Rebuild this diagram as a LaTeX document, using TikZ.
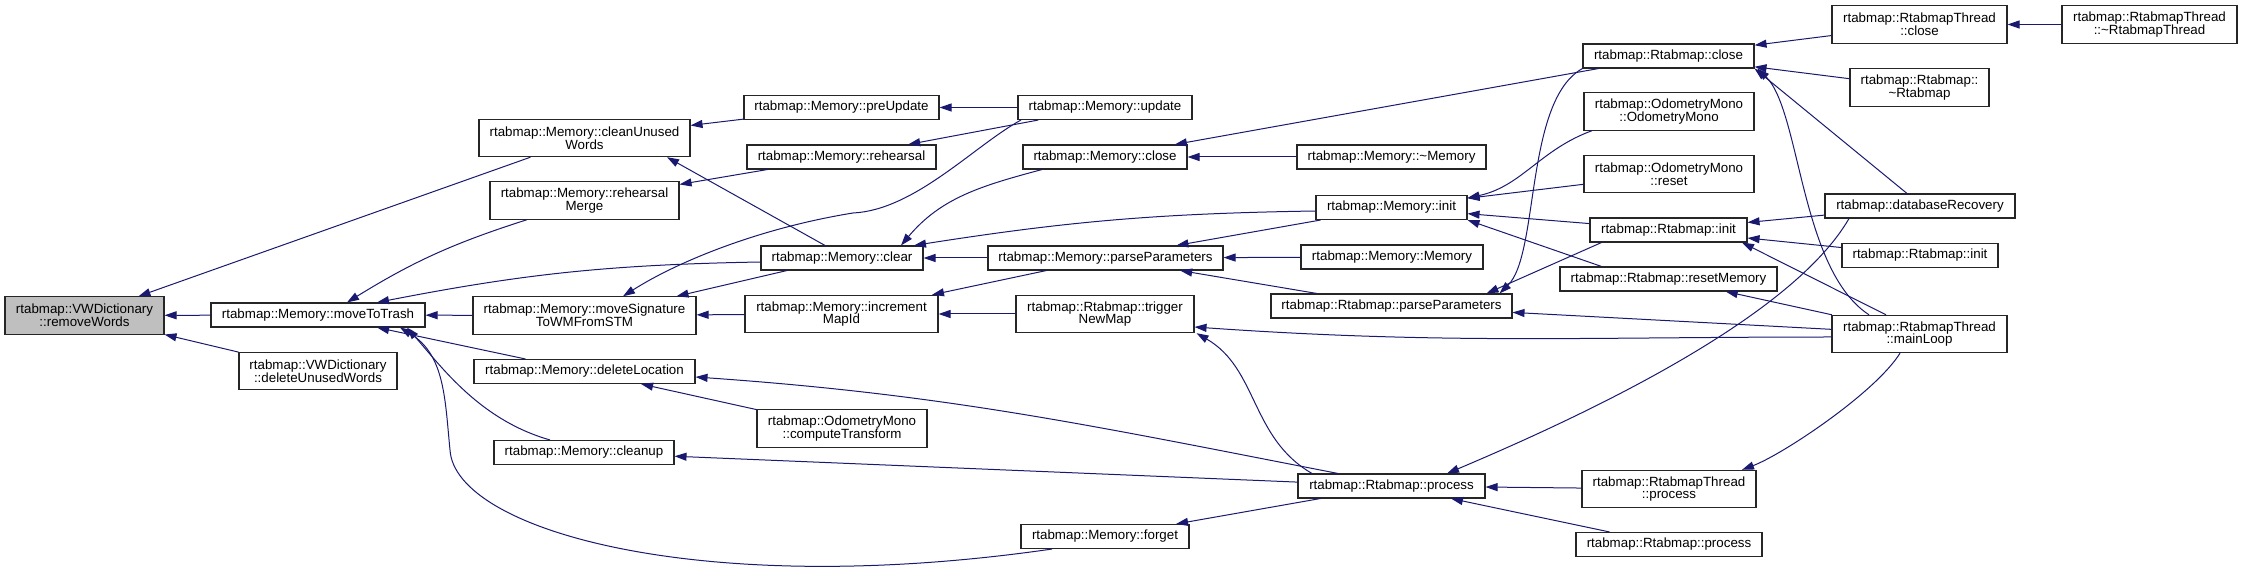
\documentclass[tikz,border=0pt]{standalone}
\usepackage{fontspec}
\setmainfont{Liberation Sans}
\usetikzlibrary{arrows.meta}
\definecolor{edgeblue}{HTML}{191970}
\definecolor{nodegray}{HTML}{BFBFBF}
\begin{document}
\begin{tikzpicture}[x=0.75pt,y=-0.75pt,
  func/.style={draw=black!85, line width=0.8pt, fill=white, align=center, inner sep=0pt,
    font=\fontsize{10pt}{9.5pt}\selectfont, minimum width=#1*0.75pt, minimum height=18pt},
  twoline/.style={minimum height=28pt},
  focus/.style={fill=nodegray},
  call/.style={draw=edgeblue, line width=0.75pt, {Triangle[length=9pt,width=6pt]}-}]
\useasboundingbox (0,0) rectangle (2242,580);

% Les fonctions
\node[func=159,twoline,focus] (removeWords) at (84.5,315.5) {rtabmap::VWDictionary\\::removeWords};
\node[func=214] (moveToTrash) at (318,315) {rtabmap::Memory::moveToTrash};
\node[func=158,twoline] (deleteUnusedWords) at (318,371) {rtabmap::VWDictionary\\::deleteUnusedWords};
\node[func=211,twoline] (cleanUnusedWords) at (584.5,138) {rtabmap::Memory::cleanUnused\\Words};
\node[func=189,twoline] (rehearsalMerge) at (584.5,200.5) {rtabmap::Memory::rehearsal\\Merge};
\node[func=223,twoline] (moveSignature) at (584.5,315.5) {rtabmap::Memory::moveSignature\\ToWMFromSTM};
\node[func=221] (deleteLocation) at (584.5,371.5) {rtabmap::Memory::deleteLocation};
\node[func=180] (cleanup) at (584,452.5) {rtabmap::Memory::cleanup};
\node[func=195] (preUpdate) at (841.5,107.5) {rtabmap::Memory::preUpdate};
\node[func=189] (rehearsal) at (841.5,157) {rtabmap::Memory::rehearsal};
\node[func=162] (clear) at (842,258) {rtabmap::Memory::clear};
\node[func=193,twoline] (incrementMapId) at (841.5,314) {rtabmap::Memory::increment\\MapId};
\node[func=170,twoline] (computeTransform) at (842,428.5) {rtabmap::OdometryMono\\::computeTransform};
\node[func=174] (update) at (1105,107.5) {rtabmap::Memory::update};
\node[func=164] (memClose) at (1105,157) {rtabmap::Memory::close};
\node[func=235] (memParams) at (1105.5,258) {rtabmap::Memory::parseParameters};
\node[func=178,twoline] (triggerNewMap) at (1105,314) {rtabmap::Rtabmap::trigger\\NewMap};
\node[func=168] (forget) at (1105,536.5) {rtabmap::Memory::forget};
\node[func=189] (memDestr) at (1391.5,157) {rtabmap::Memory::\textasciitilde Memory};
\node[func=151] (memInit) at (1391.5,207.5) {rtabmap::Memory::init};
\node[func=182] (memCtor) at (1392,257) {rtabmap::Memory::Memory};
\node[func=241] (rtabParams) at (1391.5,306) {rtabmap::Rtabmap::parseParameters};
\node[func=187] (rtabProcess) at (1391.5,486) {rtabmap::Rtabmap::process};
\node[func=171] (rtabClose) at (1668.5,56) {rtabmap::Rtabmap::close};
\node[func=170,twoline] (odomCtor) at (1669,111.5) {rtabmap::OdometryMono\\::OdometryMono};
\node[func=170,twoline] (odomReset) at (1669,174) {rtabmap::OdometryMono\\::reset};
\node[func=157] (rtabInit) at (1668.5,230) {rtabmap::Rtabmap::init};
\node[func=217] (resetMemory) at (1668.5,279) {rtabmap::Rtabmap::resetMemory};
\node[func=174,twoline] (threadProcess) at (1669,489) {rtabmap::RtabmapThread\\::process};
\node[func=186] (rtabProcessB) at (1669,544.5) {rtabmap::Rtabmap::process};
\node[func=175,twoline] (threadClose) at (1919.5,24.5) {rtabmap::RtabmapThread\\::close};
\node[func=139,twoline] (rtabDestr) at (1919.5,87.5) {rtabmap::Rtabmap::\\\textasciitilde Rtabmap};
\node[func=190] (dbRecovery) at (1920,206) {rtabmap::databaseRecovery};
\node[func=156] (rtabInitB) at (1920,255.5) {rtabmap::Rtabmap::init};
\node[func=175,twoline] (mainLoop) at (1919.5,334) {rtabmap::RtabmapThread\\::mainLoop};
\node[func=175,twoline] (threadDestr) at (2149.5,24.5) {rtabmap::RtabmapThread\\::\textasciitilde RtabmapThread};

% Les appels
\draw[call] (removeWords) -- (cleanUnusedWords);
\draw[call] (removeWords) -- (moveToTrash);
\draw[call] (removeWords) -- (deleteUnusedWords);

\draw[call] ([shift={(29,0)}]moveToTrash.north) to[bend left=7] ([shift={(-57.5,0)}]rehearsalMerge.south);
\draw[call] ([shift={(59,0)}]moveToTrash.north) to[bend left=5] ([shift={(0,4)}]clear.west);
\draw[call] (moveToTrash) -- (moveSignature);
\draw[call] (moveToTrash) -- (deleteLocation);
\draw[call] ([shift={(89,0)}]moveToTrash.south) .. controls +(35,40) and +(-70,-20) .. ([shift={(-34,0)}]cleanup.north);
\draw[call] ([shift={(82,0)}]moveToTrash.south) .. controls +(45,27) and (445,400) .. (450,450)
  .. controls (455,530) and (700,600) .. ([shift={(-53,0)}]forget.south);

\draw[call] ([shift={(0,5.5)}]deleteLocation.east) to[out=-4,in=169] ([shift={(-53.5,0)}]rtabProcess.north);
\draw[call] (deleteLocation) -- (computeTransform);
\draw[call] (cleanup) -- (rtabProcess);

\draw[call] (cleanUnusedWords) -- (preUpdate);
\draw[call] ([shift={(82.5,0)}]cleanUnusedWords.south) -- ([shift={(-17,0)}]clear.north);
\draw[call] (rehearsalMerge) -- (rehearsal);

\draw[call] ([shift={(38.5,0)}]moveSignature.north) .. controls +(55,-35) and (760,228) .. (853,213)
  .. controls (915,210) and (975,145) .. ([shift={(-84,0)}]update.south);
\draw[call] ([shift={(92,0)}]moveSignature.north) -- ([shift={(-55,0)}]clear.south);
\draw[call] (moveSignature) -- (incrementMapId);

\draw[call] (preUpdate) -- (update);
\draw[call] (rehearsal) -- (update);

\draw[call] ([shift={(59,0)}]clear.north) to[out=50,in=195] ([shift={(-63,0)}]memClose.south);
\draw[call] ([shift={(72,0)}]clear.north) to[bend left=4] ([shift={(0,3.5)}]memInit.west);
\draw[call] (clear) -- (memParams);

\draw[call] (incrementMapId) -- (memParams);
\draw[call] (incrementMapId) -- (triggerNewMap);

\draw[call] (memClose) -- (rtabClose);
\draw[call] (memClose) -- (memDestr);

\draw[call] (memParams) -- (memInit);
\draw[call] (memParams) -- (memCtor);
\draw[call] (memParams) -- (rtabParams);

\draw[call] ([shift={(0,13)}]triggerNewMap.east) to[out=-4,in=180] ([shift={(0,3)}]mainLoop.west);
\draw[call] ([shift={(2,0)}]triggerNewMap.south east) to[out=-30,in=150] ([shift={(-79.5,0)}]rtabProcess.north);
\draw[call] (forget) -- (rtabProcess);

\draw[call] ([shift={(0,-9.5)}]memInit.east) to[out=12,in=200] ([shift={(-77,0)}]odomCtor.south);
\draw[call] (memInit) -- (odomReset);
\draw[call] (memInit) -- (rtabInit);
\draw[call] (memInit.south east) -- ([shift={(-67,0)}]resetMemory.north);

\draw[call] ([shift={(108,0)}]rtabParams.north) .. controls +(40,-39) and +(-58,32) .. (rtabClose.south west);
\draw[call] ([shift={(95,0)}]rtabParams.north) -- ([shift={(-67,0)}]rtabInit.south);
\draw[call] (rtabParams) -- (mainLoop);

\draw[call] (rtabProcess) -- (threadProcess);
\draw[call] (rtabProcess) -- (rtabProcessB);
\draw[call] ([shift={(55.5,0)}]rtabProcess.north) .. controls +(130,-55) and +(-59,102) .. ([shift={(-71,0)}]dbRecovery.south);

\draw[call] (rtabClose) -- (threadClose);
\draw[call] (rtabClose) -- (rtabDestr);
\draw[call] (rtabClose.south east) -- ([shift={(-13,0)}]dbRecovery.north);
\draw[call] ([shift={(3,0)}]rtabClose.south east) .. controls +(43,42) and +(-69,-45) .. ([shift={(-50.5,0)}]mainLoop.north);
\draw[call] (threadClose) -- (threadDestr);

\draw[call] (rtabInit) -- (dbRecovery);
\draw[call] (rtabInit) -- (rtabInitB);
\draw[call] ([shift={(73.5,0)}]rtabInit.south) -- ([shift={(-33.5,0)}]mainLoop.north);
\draw[call] (resetMemory) -- (mainLoop);
\draw[call] ([shift={(73,0)}]threadProcess.north) .. controls +(40,-15) and +(-25,40) .. ([shift={(-19.5,0)}]mainLoop.south);

\end{tikzpicture}
\end{document}
